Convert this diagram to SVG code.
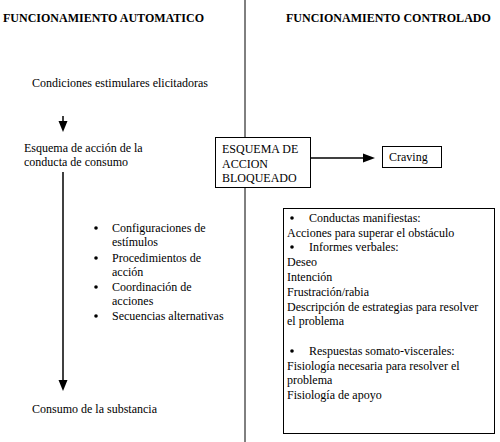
<svg xmlns="http://www.w3.org/2000/svg" width="500" height="442" viewBox="0 0 500 442">
<style>
text{font-family:"Liberation Serif","Tinos","Times New Roman",serif;font-size:12px;fill:#000}
.h{font-weight:bold}
.box{fill:#fff;stroke:#000;stroke-width:1}
.ln{stroke:#000;stroke-width:1.5;fill:none}
.head{fill:#000;stroke:none}
</style>
<rect width="500" height="442" fill="#fff"/>
<g id="connectors">
<line x1="245" y1="0" x2="245" y2="137" stroke="#000" stroke-width="1"/>
<line x1="245" y1="187" x2="245" y2="442" stroke="#000" stroke-width="1"/>
<line class="ln" x1="63" y1="116" x2="63" y2="122"/>
<polygon class="head" points="58.5,121 67.5,121 63,132"/>
<line class="ln" x1="63" y1="172" x2="63" y2="381"/>
<polygon class="head" points="58.5,380 67.5,380 63,391"/>
<line class="ln" x1="310" y1="158" x2="364" y2="158"/>
<polygon class="head" points="363,153.5 363,162.5 375,158"/>
</g>
<g id="header-auto"><text class="h" x="3" y="22">FUNCIONAMIENTO AUTOMATICO</text></g>
<g id="header-ctrl"><text class="h" x="286" y="22">FUNCIONAMIENTO CONTROLADO</text></g>
<g id="condiciones"><text x="32" y="87">Condiciones estimulares elicitadoras</text></g>
<g id="esquema-accion"><text x="24" y="152">Esquema de acción de la</text><text x="24" y="166">conducta de consumo</text></g>
<g id="lista">
<circle cx="96" cy="228" r="1.8"/><text x="112" y="232">Configuraciones de</text><text x="112" y="246">estímulos</text>
<circle cx="96" cy="258" r="1.8"/><text x="112" y="262">Procedimientos de</text><text x="112" y="276">acción</text>
<circle cx="96" cy="287" r="1.8"/><text x="112" y="291">Coordinación de</text><text x="112" y="305">acciones</text>
<circle cx="96" cy="316" r="1.8"/><text x="112" y="320">Secuencias alternativas</text>
</g>
<g id="consumo"><text x="32" y="413">Consumo de la substancia</text></g>
<g id="bloqueado"><rect class="box" x="215.5" y="137.5" width="95" height="50"/>
<text x="222" y="153">ESQUEMA DE</text><text x="222" y="168">ACCION</text><text x="222" y="182">BLOQUEADO</text></g>
<g id="craving"><rect class="box" x="382.5" y="146.5" width="59" height="21"/><text x="389" y="161">Craving</text></g>
<g id="respuestas"><rect class="box" x="283.5" y="208.5" width="211" height="225"/>
<circle cx="292" cy="218" r="1.8"/><text x="309" y="222">Conductas manifiestas:</text>
<text x="287" y="237">Acciones para superar el obstáculo</text>
<circle cx="292" cy="247" r="1.8"/><text x="309" y="251">Informes verbales:</text>
<text x="287" y="266">Deseo</text>
<text x="287" y="281">Intención</text>
<text x="287" y="296">Frustración/rabia</text>
<text x="287" y="311">Descripción de estrategias para resolver</text>
<text x="287" y="325">el problema</text>
<circle cx="292" cy="351" r="1.8"/><text x="309" y="355">Respuestas somato-viscerales:</text>
<text x="287" y="370">Fisiología necesaria para resolver el</text>
<text x="287" y="384">problema</text>
<text x="287" y="399">Fisiología de apoyo</text>
</g>
</svg>
